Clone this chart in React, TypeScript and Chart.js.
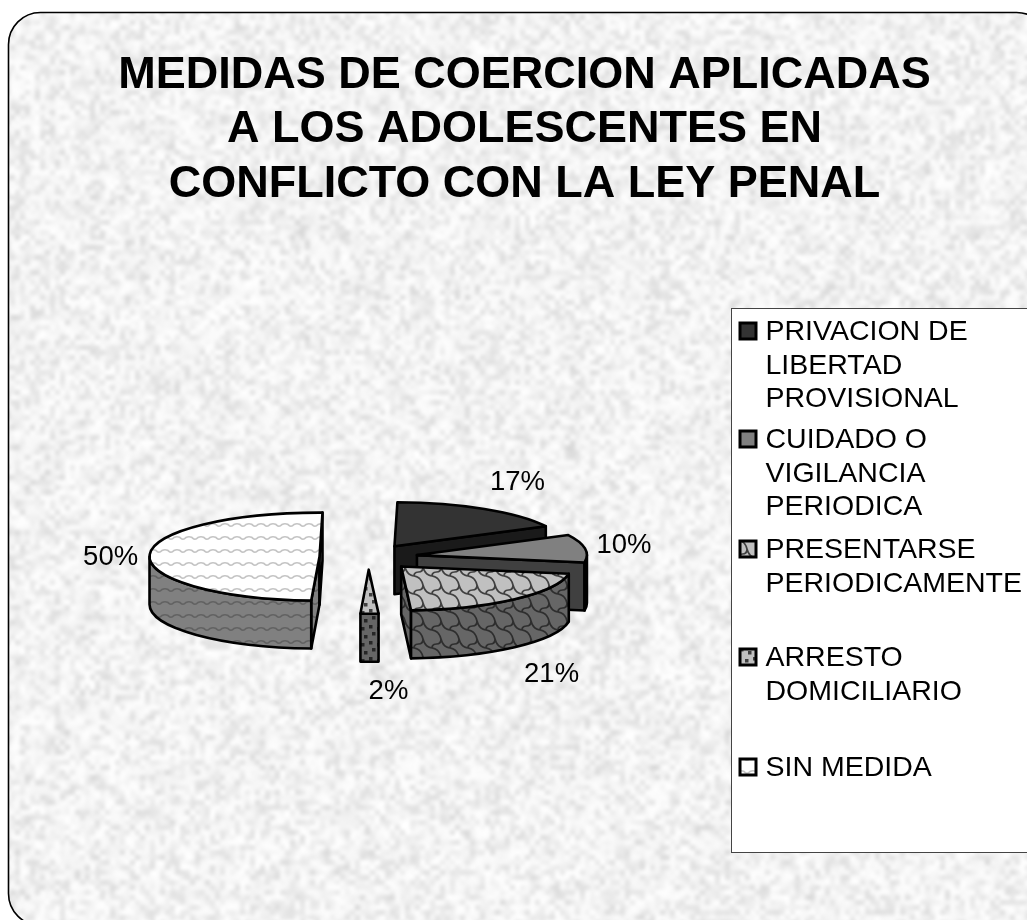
import React, { useEffect, useRef } from "react";
import { Chart, registerables } from "chart.js";

Chart.register(...registerables);

const FONT = '"Liberation Sans", Arial, sans-serif';
const W = 1027;
const H = 920;

const titleLines = [
  "MEDIDAS DE COERCION APLICADAS",
  "A LOS ADOLESCENTES EN",
  "CONFLICTO CON LA LEY PENAL",
];
const categories = [
  ["PRIVACION DE", "LIBERTAD", "PROVISIONAL"],
  ["CUIDADO O", "VIGILANCIA", "PERIODICA"],
  ["PRESENTARSE", "PERIODICAMENTE"],
  ["ARRESTO", "DOMICILIARIO"],
  ["SIN MEDIDA"],
];
const shares = [17.2, 10.2, 21.4, 1.7, 49.5];

// style constants
const legendFirstBaseline = [340, 448, 558, 666, 776];
const labelShift = [
  [33, -26],
  [39, -3],
  [37, 27],
  [19, 30],
  [-39, 2],
];

function makeTile(
  bg: string,
  size: [number, number],
  paint: (c: CanvasRenderingContext2D) => void
) {
  const cv = document.createElement("canvas");
  cv.width = size[0];
  cv.height = size[1];
  const c = cv.getContext("2d")!;
  c.fillStyle = bg;
  c.fillRect(0, 0, size[0], size[1]);
  paint(c);
  return c.createPattern(cv, "repeat")!;
}

function scales(bg: string, line: string) {
  return makeTile(bg, [18, 18], (c) => {
    c.strokeStyle = line;
    c.lineWidth = 1.7;
    const scale = (x: number, y: number) => {
      c.beginPath();
      c.moveTo(x, y);
      c.quadraticCurveTo(x + 7, y + 1, x + 9, y + 9);
      c.quadraticCurveTo(x + 11, y + 17, x + 18, y + 18);
      c.moveTo(x + 9, y + 9);
      c.quadraticCurveTo(x + 9, y + 14, x + 4.5, y + 14);
      c.quadraticCurveTo(x, y + 14, x, y + 18);
      c.stroke();
    };
    for (const x of [-18, 0, 18])
      for (const y of [-18, 0, 18]) scale(x, y);
  });
}
function dots(bg: string, dot: string) {
  return makeTile(bg, [16, 16], (c) => {
    c.fillStyle = dot;
    for (const [x, y] of [
      [1, 1],
      [9, 3],
      [4, 8],
      [12, 11],
    ])
      c.fillRect(x, y, 3.5, 3.5);
  });
}
function waves(bg: string, line: string) {
  return makeTile(bg, [12, 13], (c) => {
    c.strokeStyle = line;
    c.lineWidth = 1.7;
    for (const y of [-13, 0, 13]) {
      c.beginPath();
      c.moveTo(-6, y + 8);
      c.quadraticCurveTo(-3, y + 3, 0, y + 4.5);
      c.quadraticCurveTo(3, y + 8, 6, y + 4.5);
      c.quadraticCurveTo(9, y + 3, 12, y + 4.5);
      c.quadraticCurveTo(15, y + 8, 18, y + 4.5);
      c.stroke();
    }
  });
}

function makeTexture() {
  const layer = (cell: number) => {
    const w = Math.ceil(W / cell) + 1;
    const h = Math.ceil(H / cell) + 1;
    const cv = document.createElement("canvas");
    cv.width = w;
    cv.height = h;
    const c = cv.getContext("2d")!;
    const img = c.createImageData(w, h);
    let s = 12345 + cell * 97;
    for (let i = 0; i < w * h; i++) {
      s = (s * 1664525 + 1013904223) >>> 0;
      const r = s / 4294967296;
      const v = 254 - 38 * r * r;
      img.data[i * 4] = v;
      img.data[i * 4 + 1] = v;
      img.data[i * 4 + 2] = v;
      img.data[i * 4 + 3] = 255;
    }
    c.putImageData(img, 0, 0);
    return cv;
  };
  const out = document.createElement("canvas");
  out.width = W;
  out.height = H;
  const c = out.getContext("2d")!;
  c.imageSmoothingEnabled = true;
  c.imageSmoothingQuality = "high";
  c.drawImage(layer(5), 0, 0, (Math.ceil(W / 5) + 1) * 5, (Math.ceil(H / 5) + 1) * 5);
  c.globalAlpha = 0.3;
  c.drawImage(layer(11), 0, 0, (Math.ceil(W / 11) + 1) * 11, (Math.ceil(H / 11) + 1) * 11);
  c.globalAlpha = 1;
  return out;
}

const pie3d = {
  id: "pie3d",
  beforeDraw(chart: any, _a: any, o: any) {
    const c: CanvasRenderingContext2D = chart.ctx;
    c.save();
    c.fillStyle = "#fff";
    c.fillRect(0, 0, W, H);
    c.beginPath();
    c.roundRect(8.5, 12.5, 1040, 913, 32);
    c.save();
    c.clip();
    c.drawImage(o.texture, 0, 0);
    c.restore();
    c.strokeStyle = "#000";
    c.lineWidth = 1.6;
    c.stroke();
    c.restore();
  },
  afterLayout(chart: any, _a: any, o: any) {
    const a = chart.chartArea;
    a.left = o.cx - 200;
    a.right = o.cx + 200;
    a.top = o.cy - 100;
    a.bottom = o.cy + 100;
    a.width = 400;
    a.height = 200;
  },
  beforeDatasetDraw(chart: any, args: any, o: any) {
    const c: CanvasRenderingContext2D = chart.ctx;
    const k = o.squash;
    const depth = o.depth;
    const arcs = args.meta.data;
    const values: number[] = chart.data.datasets[0].data;
    const total = values.reduce((a, b) => a + b, 0);
    const fills = chart.data.datasets[0].backgroundColor;

    const paint = () => {
      c.lineWidth = 2.6;
      c.lineJoin = "round";
      c.strokeStyle = "#000";
      c.fill();
      c.stroke();
    };

    arcs.forEach((arc: any, i: number) => {
      const { x, y, startAngle: a0, endAngle: a1, outerRadius: rx } = arc.getProps(
        ["x", "y", "startAngle", "endAngle", "outerRadius"],
        true
      );
      const mid = (a0 + a1) / 2;
      const ex = arc.options.offset;
      const cx = x + Math.cos(mid) * ex;
      const cy = y + Math.sin(mid) * ex * k;
      const ry = rx * k;
      const px = (t: number) => cx + rx * Math.cos(t);
      const py = (t: number) => cy + ry * Math.sin(t);

      c.save();
      // cut faces that look towards the viewer
      const face = (t: number) => {
        c.beginPath();
        c.moveTo(cx, cy);
        c.lineTo(px(t), py(t));
        c.lineTo(px(t), py(t) + depth);
        c.lineTo(cx, cy + depth);
        c.closePath();
        paint();
      };
      c.fillStyle = o.wallFills[i];
      if (Math.cos(a0) < -1e-6) face(a0);
      if (Math.cos(a1) > 1e-6) face(a1);
      // outer wall, front half only
      const w0 = Math.max(a0, 0);
      const w1 = Math.min(a1, Math.PI);
      if (w1 > w0) {
        c.beginPath();
        c.ellipse(cx, cy, rx, ry, 0, w0, w1, false);
        c.lineTo(px(w1), py(w1) + depth);
        c.ellipse(cx, cy + depth, rx, ry, 0, w1, w0, true);
        c.closePath();
        paint();
      }
      // top face
      c.fillStyle = fills[i];
      c.beginPath();
      c.moveTo(cx, cy);
      c.ellipse(cx, cy, rx, ry, 0, a0, a1, false);
      c.closePath();
      paint();
      c.restore();

      // value label
      const s = Math.sin(mid) > 0.1 ? depth : 0;
      c.save();
      c.fillStyle = "#000";
      c.font = `${o.labelSize}px ${FONT}`;
      c.textAlign = "center";
      c.textBaseline = "middle";
      c.fillText(
        `${Math.round((values[i] / total) * 100)}%`,
        px(mid) + labelShift[i][0],
        py(mid) + s + labelShift[i][1]
      );
      c.restore();
    });
    return false;
  },
  afterDraw(chart: any, _a: any, o: any) {
    const c: CanvasRenderingContext2D = chart.ctx;
    const fills = chart.data.datasets[0].backgroundColor;
    c.save();
    c.fillStyle = "#fff";
    c.strokeStyle = "#444";
    c.lineWidth = 1;
    c.fillRect(731.5, 308.5, 320, 544);
    c.strokeRect(731.5, 308.5, 320, 544);
    c.font = `${o.legendSize}px ${FONT}`;
    c.textBaseline = "alphabetic";
    c.textAlign = "left";
    chart.data.labels.forEach((lines: string[], i: number) => {
      const base = legendFirstBaseline[i];
      c.fillStyle = fills[i];
      c.strokeStyle = "#000";
      c.lineWidth = 3;
      c.beginPath();
      c.rect(740, base - 17, 16, 16);
      c.fill();
      c.stroke();
      c.fillStyle = "#000";
      lines.forEach((t, j) => c.fillText(t, 765.5, base + j * 33.5));
    });
    c.restore();
  },
};

export default function App() {
  const ref = useRef<HTMLCanvasElement>(null);
  useEffect(() => {
    const topFills = [
      "#333333",
      "#808080",
      scales("#c0c0c0", "#404040"),
      dots("#c0c0c0", "#404040"),
      waves("#ffffff", "#c4c4c4"),
    ];
    const wallFills = [
      "#1a1a1a",
      "#404040",
      scales("#666666", "#2e2e2e"),
      dots("#666666", "#262626"),
      waves("#808080", "#626262"),
    ];
    const chart = new Chart(ref.current!, {
      type: "pie",
      data: {
        labels: categories as any,
        datasets: [
          {
            data: shares,
            backgroundColor: topFills as any,
            offset: 49,
            radius: 170,
          } as any,
        ],
      },
      plugins: [pie3d as any],
      options: {
        responsive: false,
        animation: false,
        rotation: 1,
        layout: { padding: { left: 22 } },
        plugins: {
          legend: { display: false },
          tooltip: { enabled: false },
          title: {
            display: true,
            text: titleLines,
            color: "#000",
            font: { family: FONT, size: 45, weight: "bold", lineHeight: 1.215 },
            padding: { top: 48, bottom: 10 },
          },
          pie3d: {
            cx: 368.5,
            cy: 557,
            squash: 0.2588,
            depth: 48,
            labelSize: 27.5,
            legendSize: 28.5,
            wallFills,
            texture: makeTexture(),
          },
        } as any,
      },
    });
    return () => chart.destroy();
  }, []);
  return (
    <canvas
      ref={ref}
      width={W}
      height={H}
      style={{ position: "absolute", left: 0, top: 0, display: "block" }}
    />
  );
}
